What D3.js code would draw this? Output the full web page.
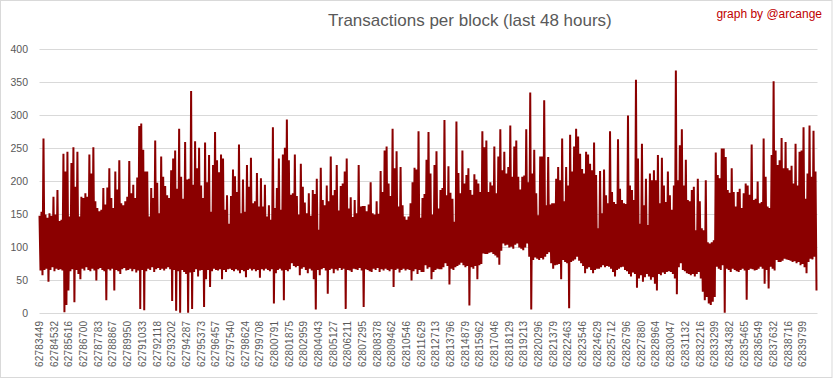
<!DOCTYPE html>
<html>
<head>
<meta charset="utf-8">
<script src="https://d3js.org/d3.v7.min.js"></script>
<style>
  body { margin: 0; background: #fff; }
  svg text { font-family: "Liberation Sans", Arial, sans-serif; }
</style>
</head>
<body>
<svg id="chart" width="833" height="379"></svg>
<script>
var title = "Transactions per block (last 48 hours)";
var credit = "graph by @arcange";

// block range of the 48 hours
var firstBlock = 62783449;
var lastBlock = 62840900;

var tickLabels = ["62783449", "62784532", "62785616", "62786700", "62787783", "62788867", "62789950",
  "62791033", "62792118", "62793202", "62794287", "62795373", "62796457", "62797540", "62798624",
  "62799708", "62800791", "62801875", "62802959", "62804043", "62805127", "62806211", "62807295",
  "62808378", "62809462", "62810546", "62811629", "62812713", "62813796", "62814879", "62815962",
  "62817046", "62818129", "62819213", "62820296", "62821379", "62822463", "62823546", "62824629",
  "62825712", "62826796", "62827880", "62828964", "62830047", "62831132", "62832216", "62833299",
  "62834382", "62835465", "62836549", "62837632", "62838716", "62839799"];

var yTicks = [0, 50, 100, 150, 200, 250, 300, 350, 400];

// highest tx count in each group of blocks
var peakTx = [
  148,154,265,150,145,152,148,177,150,187,
  140,142,242,215,245,147,228,252,192,245,
  147,177,175,182,177,241,212,252,170,160,
  155,157,190,165,191,220,175,160,215,188,
  232,167,164,170,177,231,182,195,175,206,
  284,288,248,215,215,147,190,175,262,198,
  152,238,207,193,179,175,217,235,247,189,
  280,207,174,260,203,204,337,195,261,220,
  251,194,175,259,199,240,154,225,275,232,
  214,241,235,157,179,136,178,218,208,184,
  256,152,203,154,225,192,236,167,170,213,
  162,205,162,195,147,164,142,282,160,190,
  235,157,241,251,294,232,180,182,241,178,
  150,227,192,168,152,182,148,187,181,204,
  127,221,172,164,194,170,238,179,187,225,
  156,193,197,215,235,159,176,146,172,152,
  225,162,163,163,155,165,199,152,150,170,
  151,216,184,247,253,197,178,280,220,246,
  162,222,164,147,142,147,167,199,221,218,
  276,145,175,181,233,275,212,150,225,246,
  159,187,190,293,179,223,183,174,139,291,
  213,182,247,197,210,220,187,180,211,203,
  197,184,276,252,262,184,199,194,253,182,
  238,279,217,245,212,222,285,207,253,262,
  207,188,207,209,279,199,335,212,248,182,
  149,238,238,323,164,237,165,167,167,204,
  222,202,265,170,222,194,271,215,253,280,
  268,242,219,212,245,241,227,217,259,210,
  129,216,152,218,179,167,276,184,169,166,
  264,189,172,167,166,300,194,187,172,354,
  235,136,257,164,204,134,212,202,217,202,
  240,167,236,194,169,215,179,157,194,368,
  202,255,279,194,233,172,170,187,192,126,
  204,170,129,126,202,108,106,108,111,244,
  210,205,250,250,237,187,183,220,184,162,
  184,189,160,182,197,194,180,256,172,174,
  200,167,169,265,207,162,160,240,352,247,
  225,232,266,220,260,220,217,224,197,257,
  194,245,247,282,174,212,285,207,277,215
];

// lowest tx count in each group of blocks
var lowTx = [
  65,58,66,68,48,66,70,64,68,66,
  67,65,2,13,35,64,67,17,66,60,
  52,68,65,70,66,64,68,65,50,67,
  69,66,64,20,67,65,68,35,66,64,
  60,67,69,65,66,68,64,67,62,65,
  7,66,5,64,68,66,70,63,67,69,
  66,68,65,68,70,67,19,66,4,64,
  1,66,63,60,1,62,7,63,67,56,
  65,66,10,52,66,40,64,68,66,65,
  67,52,66,63,67,68,66,64,67,65,
  61,66,64,55,66,68,65,67,64,66,
  54,67,65,68,66,64,67,15,61,66,
  68,65,20,66,64,67,76,72,70,72,
  58,68,70,66,61,68,65,52,6,66,
  58,67,69,65,30,66,68,61,67,65,
  69,66,68,7,66,65,63,68,67,66,
  69,65,10,67,66,64,63,68,66,69,
  63,67,65,68,66,64,67,40,66,68,
  62,66,68,65,67,66,50,64,67,60,
  66,63,63,73,68,70,52,63,66,68,
  67,67,70,76,72,44,68,66,70,72,
  74,77,73,70,72,12,70,68,72,52,
  73,75,91,90,90,92,93,90,88,85,
  74,95,106,103,104,100,101,98,104,106,
  100,98,96,100,106,86,6,81,85,83,
  81,84,82,86,90,93,76,68,73,74,
  75,52,81,78,76,8,78,80,82,86,
  80,76,72,61,68,70,66,61,66,68,
  68,70,73,70,72,71,68,63,56,66,
  68,70,71,66,64,60,56,62,60,39,
  53,58,48,55,60,56,51,55,45,35,
  60,58,62,60,63,64,63,60,53,29,
  70,76,66,64,61,60,58,60,56,60,
  63,53,33,20,25,15,13,18,25,71,
  68,66,73,1,68,66,63,68,66,64,
  63,66,68,65,21,66,68,67,65,66,
  68,71,68,45,66,38,71,68,65,81,
  78,78,80,83,82,81,80,78,79,76,
  78,73,75,70,61,78,83,82,86,35
];

var svg = d3.select("#chart");

var x = d3.scaleLinear().domain([firstBlock, lastBlock]).range([39.5, 817.5]);
var y = d3.scaleLinear().domain([0, 400]).range([313.5, 49.5]);

// outer frame
svg.append("rect")
  .attr("x", 0.5).attr("y", 0.5)
  .attr("width", 831.5).attr("height", 377)
  .attr("fill", "#fff")
  .attr("stroke", "#d9d9d9");

// gridlines
svg.append("g")
  .selectAll("line")
  .data(yTicks)
  .join("line")
  .attr("x1", x(firstBlock)).attr("x2", x(lastBlock))
  .attr("y1", function(d) { return y(d); })
  .attr("y2", function(d) { return y(d); })
  .attr("stroke", "#d9d9d9")
  .attr("stroke-width", 1);

// y labels
svg.append("g")
  .selectAll("text")
  .data(yTicks)
  .join("text")
  .attr("x", 28)
  .attr("y", function(d) { return y(d); })
  .attr("dy", "0.35em")
  .attr("text-anchor", "end")
  .attr("font-size", "10.5px")
  .attr("fill", "#595959")
  .text(function(d) { return d; });

// x labels (rotated)
svg.append("g")
  .selectAll("text")
  .data(tickLabels)
  .join("text")
  .attr("transform", function(d) { return "translate(" + x(+d) + ",321) rotate(-90)"; })
  .attr("dy", "0.36em")
  .attr("text-anchor", "end")
  .attr("font-size", "10px")
  .attr("textLength", 46)
  .attr("lengthAdjust", "spacing")
  .attr("fill", "#595959")
  .text(function(d) { return d; });

// series: zigzag between the high and low of each block group
var step = (lastBlock - firstBlock) / peakTx.length;
var points = [];
peakTx.forEach(function(v, i) {
  points.push([firstBlock + i * step, v]);
  points.push([firstBlock + (i + 0.5) * step, lowTx[i]]);
});

var line = d3.line()
  .x(function(d) { return x(d[0]); })
  .y(function(d) { return y(d[1]); });

svg.append("path")
  .datum(points)
  .attr("d", line)
  .attr("fill", "none")
  .attr("stroke", "#8b0000")
  .attr("stroke-width", 2)
  .attr("stroke-linejoin", "bevel");

// title
svg.append("text")
  .attr("x", 328).attr("y", 26)
  .attr("font-size", "17px")
  .attr("fill", "#595959")
  .text(title);

svg.append("text")
  .attr("x", 822).attr("y", 18)
  .attr("text-anchor", "end")
  .attr("font-size", "12px")
  .attr("fill", "#c00000")
  .text(credit);
</script>
</body>
</html>
